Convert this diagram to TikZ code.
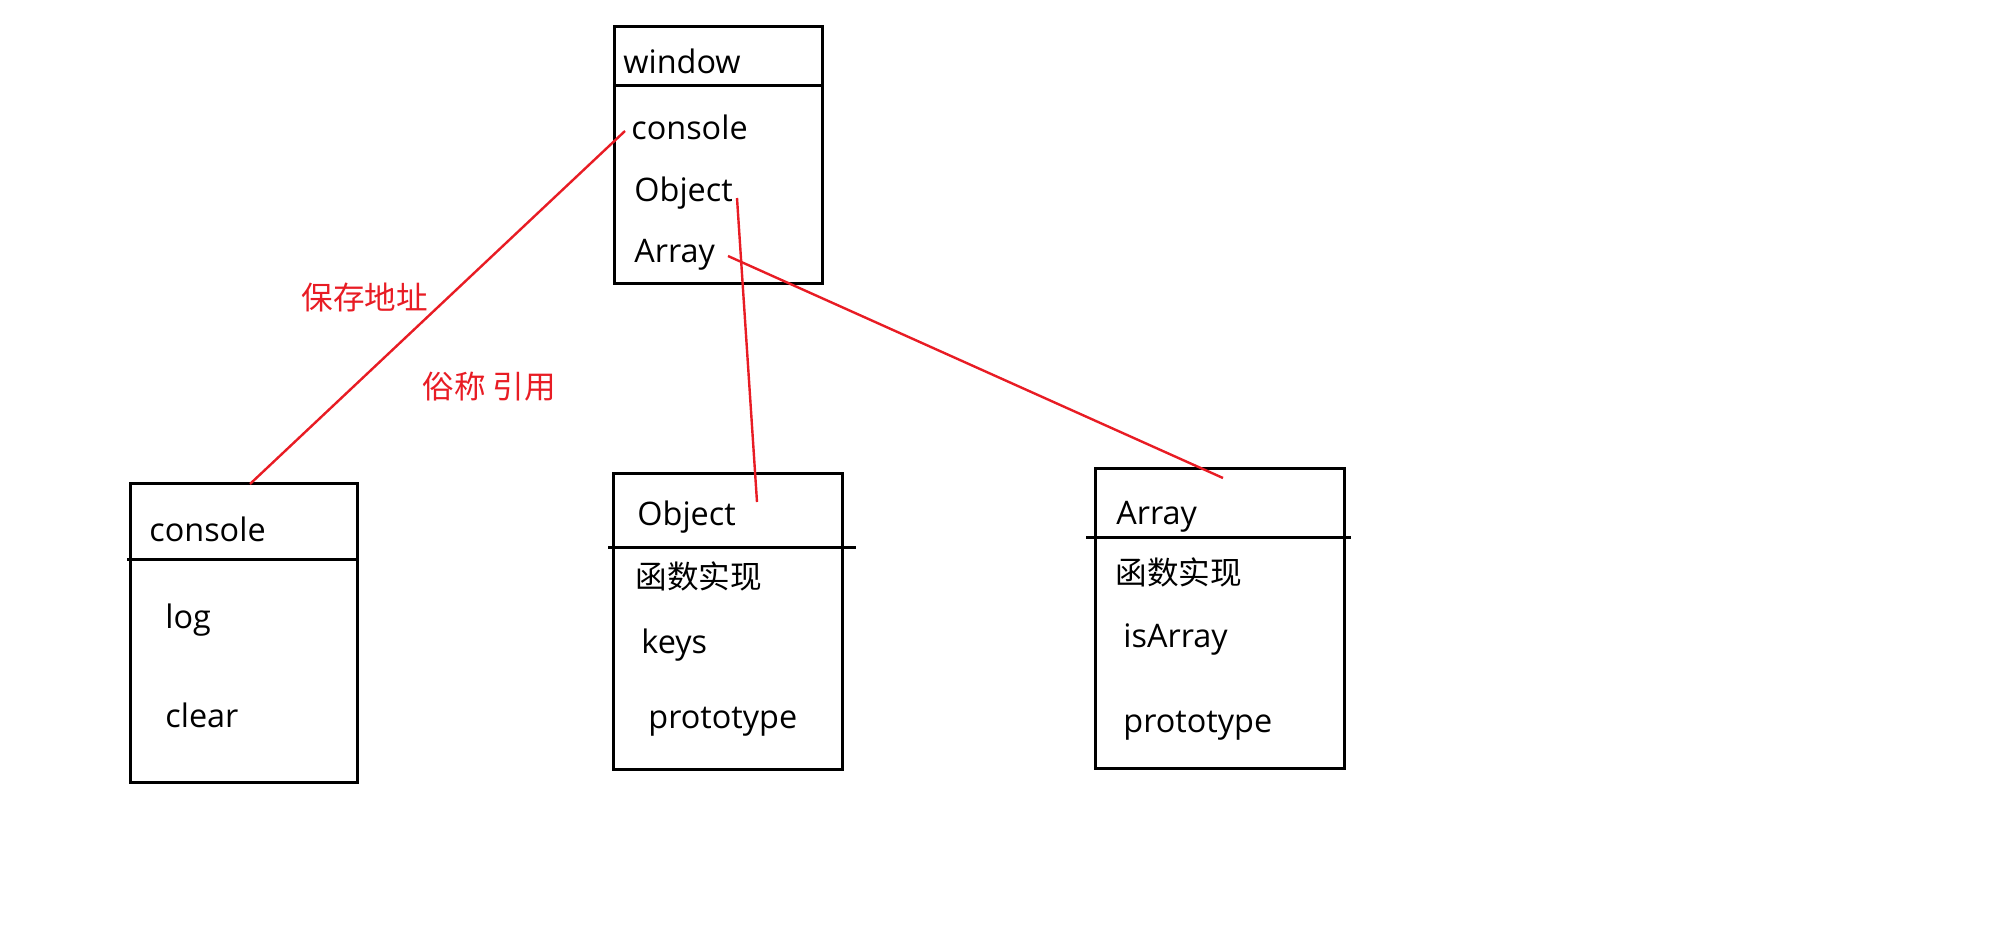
\documentclass[tikz,border=0pt]{standalone}
\usepackage{fontspec}
\setmainfont{Open Sans}
\newfontfamily\cjk{Noto Sans CJK SC}
\usetikzlibrary{fit}
\definecolor{redline}{RGB}{232,28,36}
\tikzset{
  box/.style={draw=black, line width=1.5pt, inner sep=0pt, rectangle},
  divider/.style={draw=black, line width=1.5pt},
  lbl/.style={anchor=base west, inner sep=0pt, font=\fontsize{16.2pt}{19pt}\selectfont},
  cjklbl/.style={anchor=base west, inner sep=0pt, font=\fontsize{15.8pt}{19pt}\selectfont\cjk},
  redlbl/.style={cjklbl, text=redline},
  ref/.style={draw=redline, line width=1.2pt}
}
\begin{document}
\begin{tikzpicture}[x=0.5pt,y=-0.5pt]
\useasboundingbox (0,0) rectangle (2008,928);
% boxes
\node[box, fit={(614,26) (822,283)}] (win) {};
\node[box, fit={(130,483) (357,782)}] (conbox) {};
\node[box, fit={(613,473) (842,769)}] (objbox) {};
\node[box, fit={(1095,468) (1344,768)}] (arrbox) {};
% dividers
\draw[divider] (614,85) -- (822,85);
\draw[divider] (127,559) -- (359,559);
\draw[divider] (608,547) -- (856,547);
\draw[divider] (1086,537) -- (1351,537);
% window texts
\node[lbl] (wtitle) at (623,73) {window};
\node[lbl] (wcon) at (631,139) {console};
\node[lbl] (wobj) at (634,201) {Object};
\node[lbl] (warr) at (634,262) {Array};
% console box
\node[lbl] (ctitle) at (149,541) {console};
\node[lbl] (clog) at (165,628) {log};
\node[lbl] (cclear) at (165,727) {clear};
% object box
\node[lbl] (otitle) at (637,525) {Object};
\node[cjklbl] (ofn) at (635,588) {函数实现};
\node[lbl] (okeys) at (641,653) {keys};
\node[lbl] (oproto) at (648,728) {prototype};
% array box
\node[lbl] (atitle) at (1116,524) {Array};
\node[cjklbl] (afn) at (1115,584) {函数实现};
\node[lbl] (aisarr) at (1123,647) {isArray};
\node[lbl] (aproto) at (1123,732) {prototype};
% red labels
\node[redlbl] (save) at (301,309) {保存地址};
\node[redlbl] (alias) at (422,398) {俗称 引用};
% connector endpoints
\coordinate (c1s) at (625,131);
\coordinate (c1e) at (250,484);
\coordinate (c2s) at (737,198);
\coordinate (c2e) at (757,502);
\coordinate (c3s) at (728,256);
\coordinate (c3e) at (1223,478);
\draw[ref] (c1s) -- (c1e);
\draw[ref] (c2s) -- (c2e);
\draw[ref] (c3s) -- (c3e);
\end{tikzpicture}
\end{document}
